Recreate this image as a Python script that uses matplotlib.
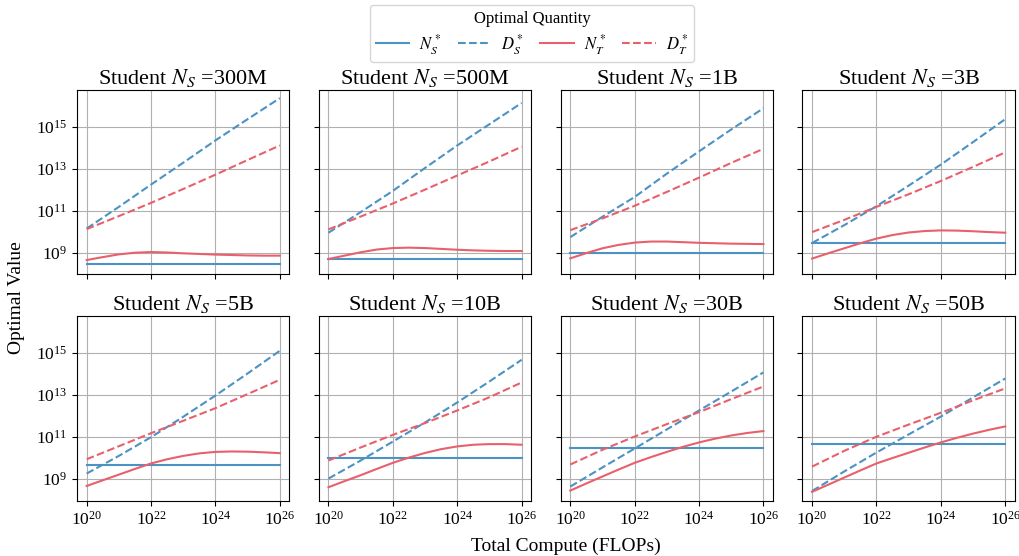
import numpy as np
import matplotlib

matplotlib.use("Agg")
import matplotlib.pyplot as plt
from matplotlib.lines import Line2D
from matplotlib.ticker import FixedLocator, NullLocator, LogFormatterSciNotation

plt.rcParams["font.family"] = "serif"
plt.rcParams["font.serif"] = ["Liberation Serif", "DejaVu Serif"]
plt.rcParams["mathtext.fontset"] = "stix"

BLUE = "#4C92C3"
RED = "#E8606C"

STUDENT_LABELS = ["300M", "500M", "1B", "3B", "5B", "10B", "30B", "50B"]
STUDENT_SIZES = [3e8, 5e8, 1e9, 3e9, 5e9, 1e10, 3e10, 5e10]

# log10 of total compute (FLOPs)
COMPUTE_LOG = [20, 21, 22, 23, 24, 25, 26]
COMPUTE_LOG_FINE = [20, 20.5, 21, 21.5, 22, 22.5, 23, 23.5, 24, 24.5, 25, 25.5, 26]

# log10 of optimal student data D_S*, one row per panel
D_S_LOG = [
    [10.15, 11.18, 12.24, 13.28, 14.34, 15.35, 16.35],
    [9.95, 10.93, 11.94, 13.03, 14.10, 15.11, 16.12],
    [9.74, 10.71, 11.65, 12.76, 13.82, 14.86, 15.87],
    [9.46, 10.31, 11.21, 12.19, 13.19, 14.26, 15.35],
    [9.27, 10.11, 11.00, 11.97, 12.98, 14.03, 15.11],
    [9.03, 9.89, 10.79, 11.70, 12.65, 13.65, 14.68],
    [8.65, 9.56, 10.46, 11.37, 12.27, 13.17, 14.08],
    [8.44, 9.37, 10.27, 11.13, 11.98, 12.89, 13.79],
]

# log10 of optimal teacher data D_T*
D_T_LOG = [
    [10.12, 10.74, 11.37, 12.03, 12.71, 13.41, 14.10],
    [10.11, 10.72, 11.34, 12.00, 12.67, 13.34, 14.04],
    [10.07, 10.63, 11.23, 11.89, 12.57, 13.27, 13.94],
    [9.98, 10.56, 11.18, 11.78, 12.41, 13.08, 13.77],
    [9.95, 10.57, 11.19, 11.78, 12.38, 13.05, 13.73],
    [9.89, 10.51, 11.11, 11.67, 12.27, 12.90, 13.60],
    [9.70, 10.40, 11.03, 11.62, 12.19, 12.81, 13.41],
    [9.60, 10.35, 11.02, 11.60, 12.16, 12.75, 13.32],
]

# log10 of optimal teacher size N_T* (half-decade compute steps)
N_T_LOG = [
    [8.65, 8.79, 8.92, 9.00, 9.03, 9.01, 8.97, 8.94, 8.91, 8.89, 8.87, 8.86, 8.86],
    [8.70, 8.86, 9.02, 9.15, 9.22, 9.24, 9.22, 9.18, 9.14, 9.11, 9.09, 9.08, 9.08],
    [8.73, 8.98, 9.21, 9.37, 9.48, 9.53, 9.53, 9.50, 9.47, 9.45, 9.43, 9.42, 9.41],
    [8.72, 8.97, 9.21, 9.45, 9.67, 9.84, 9.96, 10.03, 10.06, 10.05, 10.02, 9.98, 9.95],
    [8.68, 8.95, 9.22, 9.49, 9.75, 9.95, 10.11, 10.23, 10.30, 10.32, 10.31, 10.28, 10.24],
    [8.62, 8.91, 9.19, 9.49, 9.78, 10.03, 10.25, 10.43, 10.56, 10.64, 10.67, 10.67, 10.64],
    [8.46, 8.80, 9.13, 9.46, 9.78, 10.05, 10.30, 10.54, 10.75, 10.93, 11.08, 11.20, 11.29],
    [8.40, 8.74, 9.08, 9.42, 9.75, 10.01, 10.26, 10.51, 10.75, 10.97, 11.17, 11.35, 11.51],
]

X_TICKS = [1e20, 1e22, 1e24, 1e26]
Y_TICKS = [1e9, 1e11, 1e13, 1e15]

fig, axes = plt.subplots(2, 4, figsize=(10.2, 5.56), dpi=100, sharex=True, sharey=True)
fig.subplots_adjust(left=0.0755, right=0.995, top=0.839, bottom=0.0995, wspace=0.138, hspace=0.227)

x = 10.0 ** np.array(COMPUTE_LOG)
x_fine = 10.0 ** np.array(COMPUTE_LOG_FINE)

for idx, ax in enumerate(axes.flat):
    ax.plot(x, np.full(len(x), STUDENT_SIZES[idx]), color=BLUE, lw=1.5, ls="-")
    ax.plot(x, 10.0 ** np.array(D_S_LOG[idx]), color=BLUE, lw=1.5, ls="--")
    ax.plot(x_fine, 10.0 ** np.array(N_T_LOG[idx]), color=RED, lw=1.5, ls="-")
    ax.plot(x, 10.0 ** np.array(D_T_LOG[idx]), color=RED, lw=1.5, ls="--")

    ax.set_xscale("log")
    ax.set_yscale("log")
    ax.set_title("Student $N_S$ =" + STUDENT_LABELS[idx], fontsize=16, pad=4)
    ax.grid(True, color="#b0b0b0", lw=0.8)
    ax.xaxis.set_major_locator(FixedLocator(X_TICKS))
    ax.yaxis.set_major_locator(FixedLocator(Y_TICKS))
    ax.xaxis.set_major_formatter(LogFormatterSciNotation())
    ax.yaxis.set_major_formatter(LogFormatterSciNotation())
    ax.xaxis.set_minor_locator(NullLocator())
    ax.yaxis.set_minor_locator(NullLocator())
    ax.tick_params(labelsize=12.5)

axes[0, 0].set_xlim(10 ** 19.7, 10 ** 26.3)
axes[0, 0].set_ylim(10 ** 7.98, 10 ** 16.76)

handles = [
    Line2D([], [], color=BLUE, lw=1.5, ls="-"),
    Line2D([], [], color=BLUE, lw=1.5, ls="--"),
    Line2D([], [], color=RED, lw=1.5, ls="-"),
    Line2D([], [], color=RED, lw=1.5, ls="--"),
]
labels = [r"$N_S^*$", r"$D_S^*$", r"$N_T^*$", r"$D_T^*$"]
fig.legend(handles, labels, title="Optimal Quantity", ncols=4, loc="upper center",
           bbox_to_anchor=(0.5216, 0.991), fontsize=12, title_fontsize=12,
           handlelength=2.0, columnspacing=1.0, handletextpad=0.6,
           borderpad=0.35, borderaxespad=0.0, labelspacing=0.3)

fig.text(0.016, 0.465, "Optimal Value", rotation=90, ha="center", va="center", fontsize=14)
fig.text(0.555, 0.018, "Total Compute (FLOPs)", ha="center", va="center", fontsize=14)

fig.savefig("out.png", dpi=100)
